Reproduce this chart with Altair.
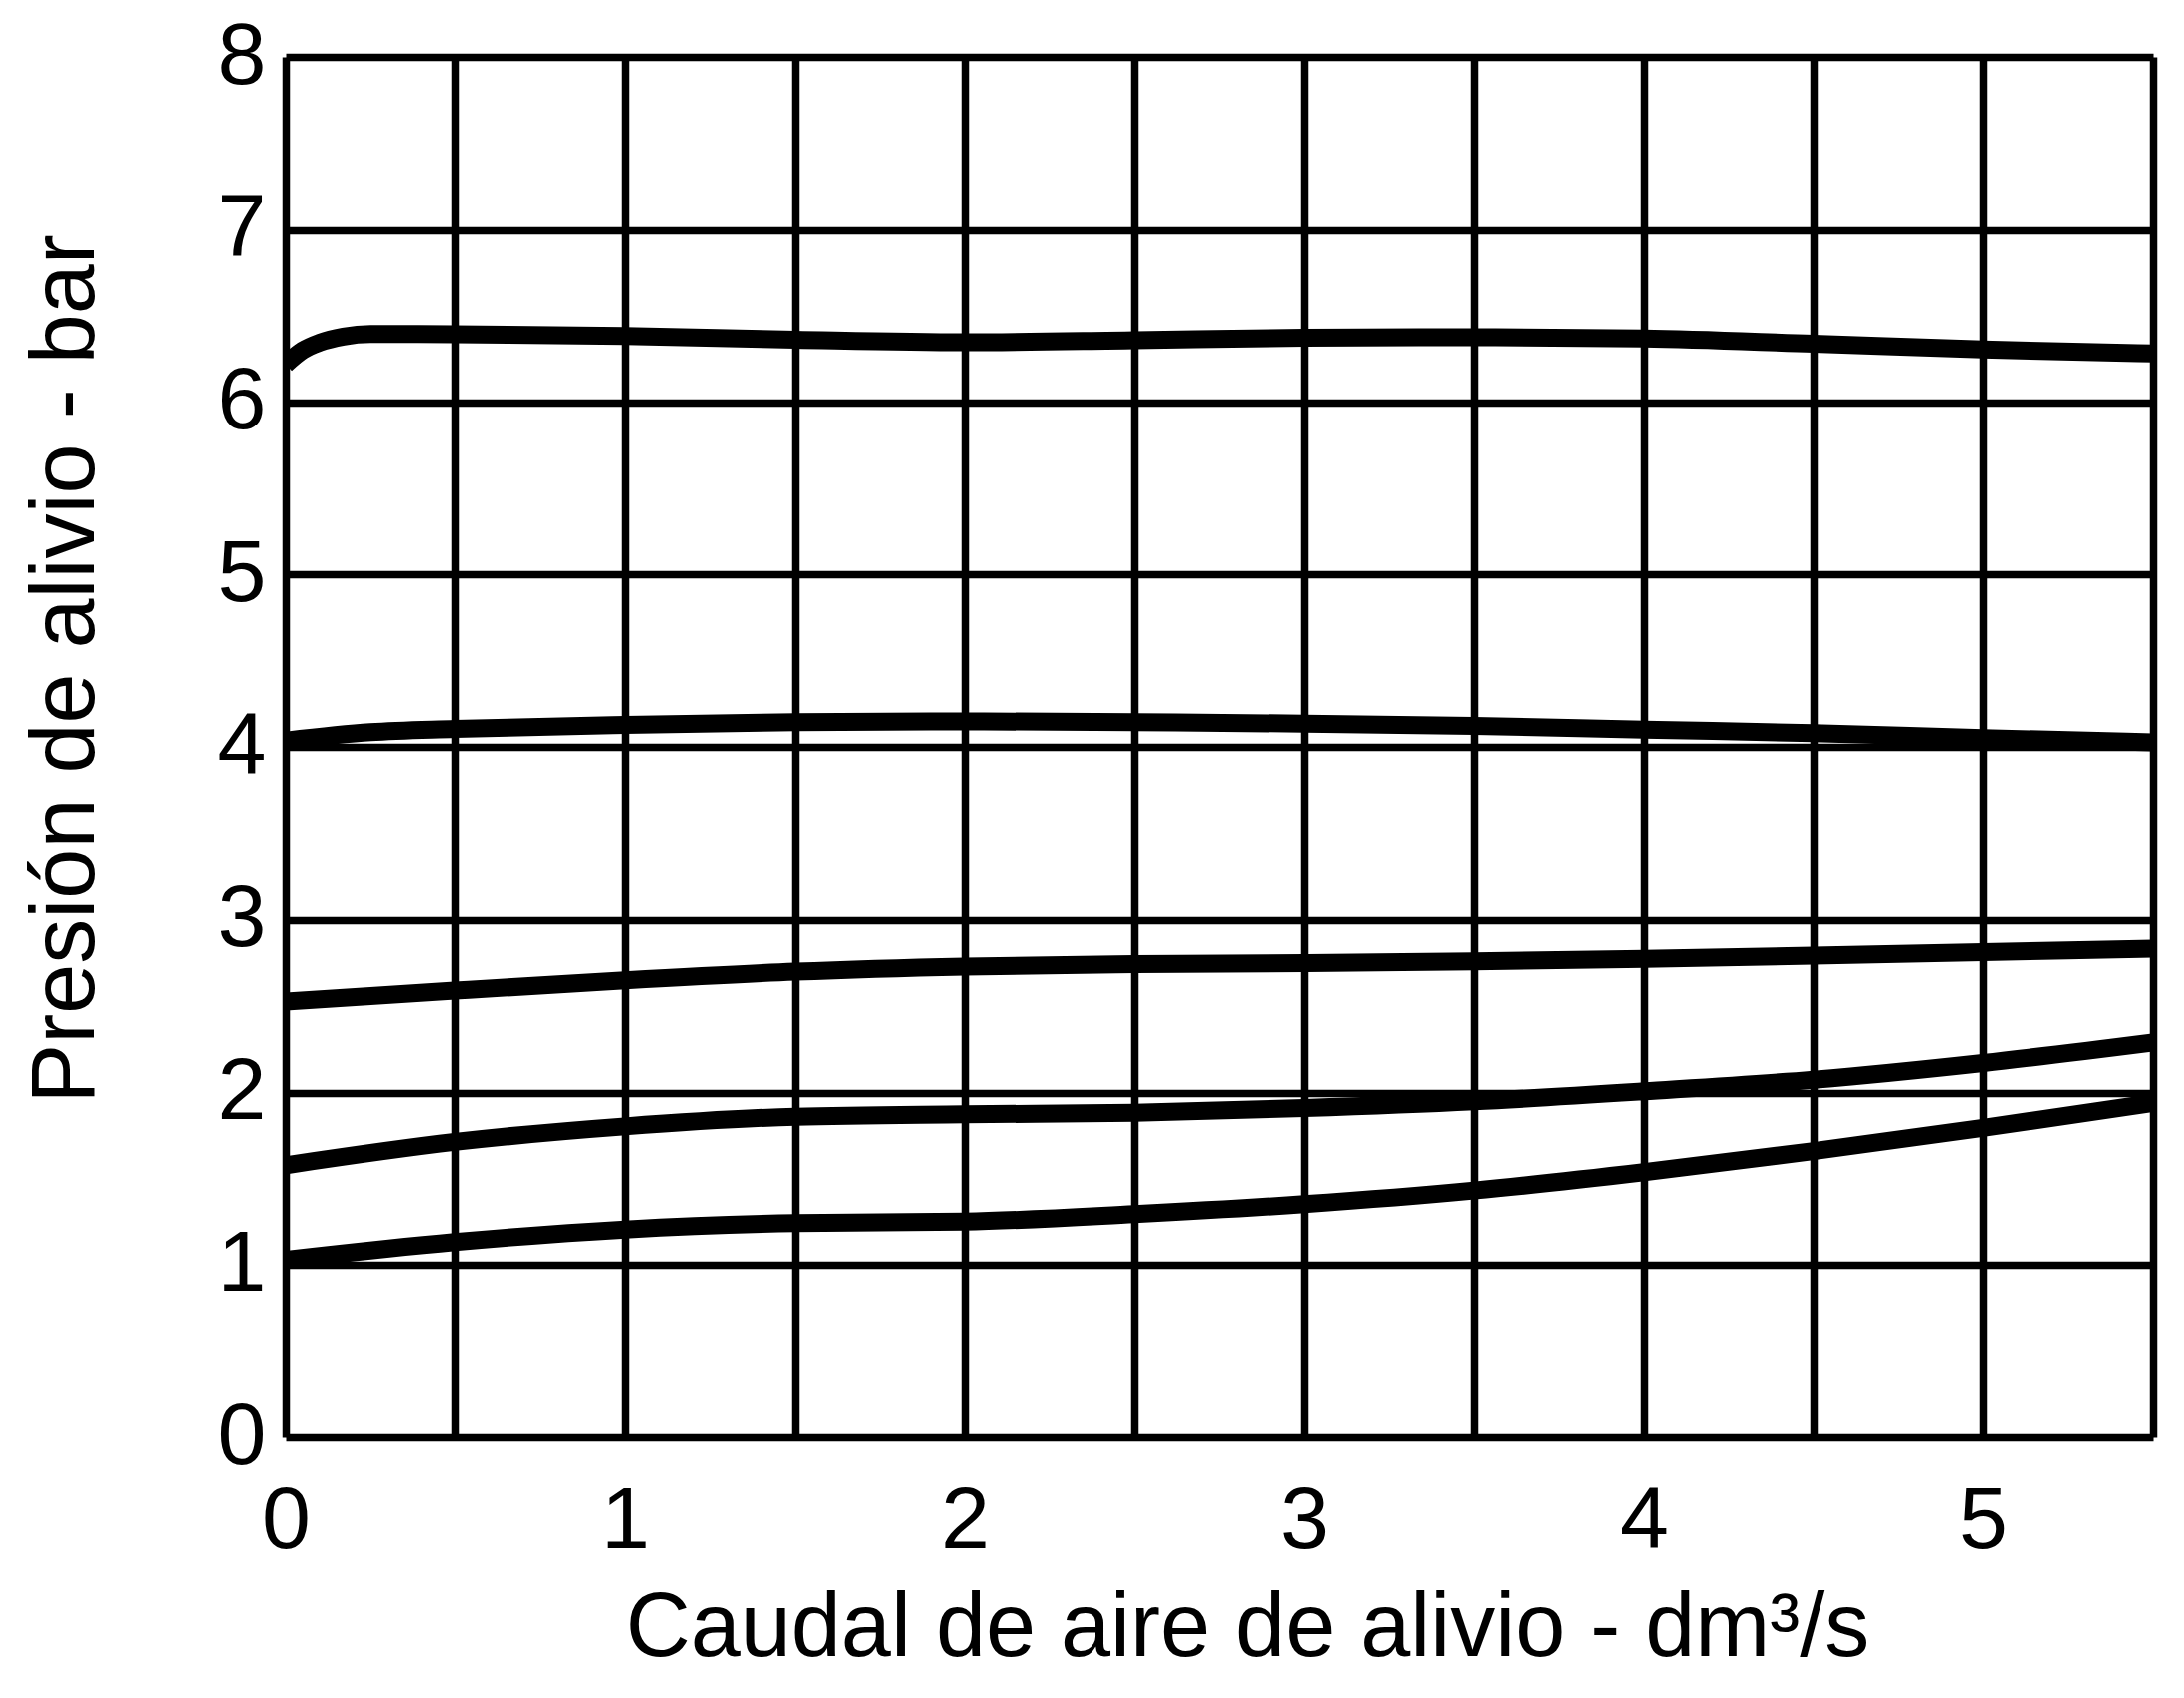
import altair as alt
import pandas as pd

# Curve data
x_top = [0, 0.05, 0.1, 0.17, 0.25, 0.5, 1.0, 1.5, 2.0, 2.5, 3.0, 3.5, 4.0, 4.5, 5.0, 5.5]
y_top = [6.22, 6.30, 6.345, 6.38, 6.395, 6.394, 6.384, 6.362, 6.347, 6.359, 6.373, 6.376, 6.369, 6.338, 6.305, 6.282]

x_c2 = [0, 0.25, 0.5, 1.0, 1.5, 2.0, 2.5, 3.0, 3.5, 4.0, 4.5, 5.0, 5.5]
y_c2 = [4.036, 4.085, 4.104, 4.128, 4.143, 4.148, 4.143, 4.135, 4.122, 4.10, 4.08, 4.051, 4.026]

x_half = [0, 0.5, 1.0, 1.5, 2.0, 2.5, 3.0, 3.5, 4.0, 4.5, 5.0, 5.5]
y_c3 = [2.526, 2.59, 2.65, 2.70, 2.73, 2.744, 2.75, 2.76, 2.774, 2.793, 2.813, 2.833]
y_c4 = [1.579, 1.714, 1.804, 1.86, 1.874, 1.883, 1.91, 1.949, 2.007, 2.074, 2.171, 2.29]
y_c5 = [1.03, 1.133, 1.206, 1.243, 1.252, 1.295, 1.353, 1.432, 1.538, 1.661, 1.795, 1.94]

x_ticks = [0, 0.5, 1, 1.5, 2, 2.5, 3, 3.5, 4, 4.5, 5, 5.5]
y_ticks = [0, 1, 2, 3, 4, 5, 6, 7, 8]

x_title = "Caudal de aire de alivio - dm³/s"
y_title = "Presión de alivio - bar"

rows = []
for name, xs, ys in [("c1", x_top, y_top), ("c2", x_c2, y_c2), ("c3", x_half, y_c3),
                     ("c4", x_half, y_c4), ("c5", x_half, y_c5)]:
    for a, b in zip(xs, ys):
        rows.append({"serie": name, "x": a, "y": b})
df = pd.DataFrame(rows)

FONT = "Liberation Sans"
GRID_W = 7.5

chart = alt.Chart(df).mark_line(
    color="black", strokeWidth=18, interpolate="monotone", strokeCap="butt", clip=True
).encode(
    x=alt.X("x:Q",
            scale=alt.Scale(domain=[0, 5.5], nice=False, zero=False),
            axis=alt.Axis(values=x_ticks,
                          labelExpr="datum.value % 1 === 0 ? '' + datum.value : ''",
                          grid=True, gridColor="black", gridWidth=GRID_W, gridOpacity=1,
                          domain=False, ticks=False,
                          labelFont=FONT, labelFontSize=88, labelColor="black",
                          labelPadding=40, labelFlush=False, labelOverlap=False,
                          title=x_title, titleFont=FONT, titleFontSize=90,
                          titleFontWeight="normal", titleColor="black",
                          titleX=963, titleY=218, titleBaseline="alphabetic",
                          titleAlign="center")),
    y=alt.Y("y:Q",
            scale=alt.Scale(domain=[0, 8], nice=False, zero=False),
            axis=alt.Axis(values=y_ticks, format="d",
                          grid=True, gridColor="black", gridWidth=GRID_W, gridOpacity=1,
                          domain=False, ticks=False,
                          labelFont=FONT, labelFontSize=88, labelColor="black",
                          labelPadding=20, labelFlush=False, labelOverlap=False,
                          title=y_title, titleFont=FONT, titleFontSize=90,
                          titleFontWeight="normal", titleColor="black",
                          titleX=-193, titleY=612, titleBaseline="alphabetic",
                          titleAlign="center", titleAngle=270)),
    detail="serie:N",
).properties(
    width=1870, height=1382,
    autosize=alt.AutoSizeParams(type="none"),
    padding={"left": 278, "top": 49, "right": 20, "bottom": 245},
).configure_view(
    stroke="black", strokeWidth=GRID_W
).configure(background="white")

chart.save("out.html", embed_options={"renderer": "svg", "actions": False})
